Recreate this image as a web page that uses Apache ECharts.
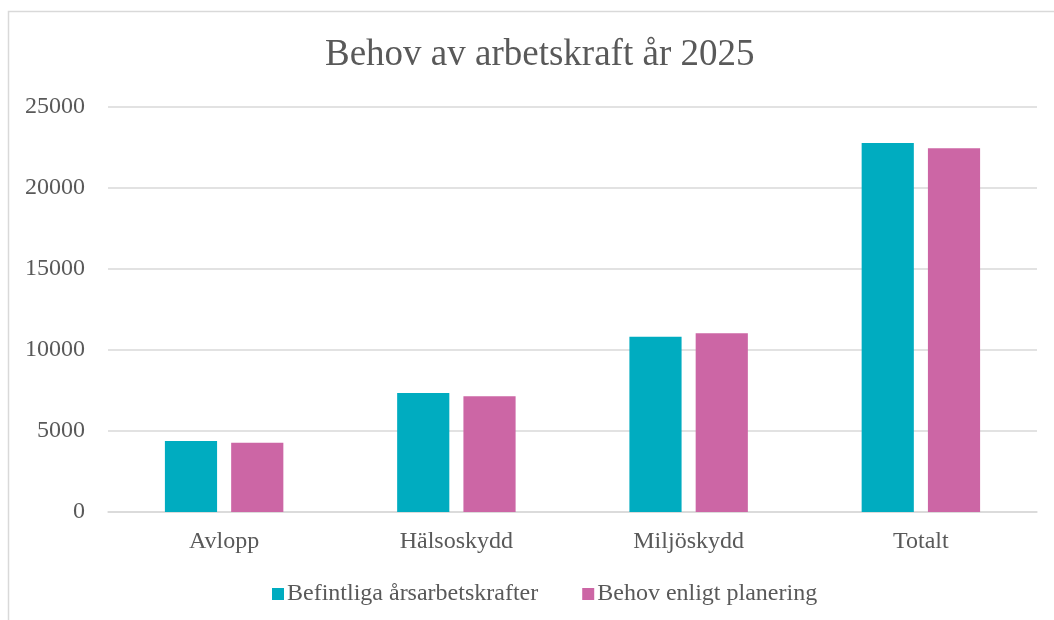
<!DOCTYPE html>
<html>
<head>
<meta charset="utf-8">
<script src="https://cdn.jsdelivr.net/npm/echarts@6/dist/echarts.min.js"></script>
<style>
  html, body { margin: 0; padding: 0; background: #fff; }
  #chart { width: 1054px; height: 620px; }
</style>
</head>
<body>
<div id="chart"></div>
<script>
const categories = ["Avlopp", "Hälsoskydd", "Miljöskydd", "Totalt"];
const seriesNames = ["Befintliga årsarbetskrafter", "Behov enligt planering"];
const befintliga = [4380, 7350, 10820, 22780];
const behov = [4270, 7140, 11030, 22450];

const font = "'Liberation Serif', 'Times New Roman', serif";
const textColor = "#595959";

const chart = echarts.init(document.getElementById("chart"));
chart.setOption({
  animation: false,
  textStyle: { fontFamily: font },
  // chart frame
  graphic: [
    {
      type: "rect",
      shape: { x: 8.5, y: 11.5, width: 1100, height: 700 },
      style: { fill: "none", stroke: "#d9d9d9", lineWidth: 1.5 },
      silent: true,
      z: -1,
    },
  ],
  title: {
    text: "Behov av arbetskraft år 2025",
    left: 320,
    top: 32,
    textStyle: {
      fontFamily: font,
      fontSize: 37,
      fontWeight: "normal",
      color: textColor,
    },
  },
  legend: {
    left: 267,
    top: 577,
    itemWidth: 12,
    itemHeight: 12,
    itemGap: 44,
    icon: "rect",
    textStyle: { fontFamily: font, fontSize: 24, color: textColor, padding: [0, 0, 0, -2] },
    data: seriesNames,
  },
  grid: { left: 108, right: 17, top: 107, bottom: 108 },
  xAxis: {
    type: "category",
    data: categories,
    axisLine: { lineStyle: { color: "#d9d9d9", width: 1.5 } },
    axisTick: { show: false },
    axisLabel: { fontFamily: font, fontSize: 24, color: textColor, margin: 18 },
  },
  yAxis: {
    type: "value",
    min: 0,
    max: 25000,
    interval: 5000,
    axisLine: { show: false },
    axisTick: { show: false },
    splitLine: { lineStyle: { color: "#d9d9d9", width: 1.5 } },
    axisLabel: {
      fontFamily: font,
      fontSize: 24,
      color: textColor,
      margin: 23,
      formatter: (v) => String(v),
    },
  },
  series: [
    {
      name: seriesNames[0],
      type: "bar",
      data: befintliga,
      barGap: "27%",
      barCategoryGap: "49%",
      itemStyle: { color: "#00acc0" },
    },
    {
      name: seriesNames[1],
      type: "bar",
      data: behov,
      itemStyle: { color: "#cc66a5" },
    },
  ],
});
</script>
</body>
</html>
